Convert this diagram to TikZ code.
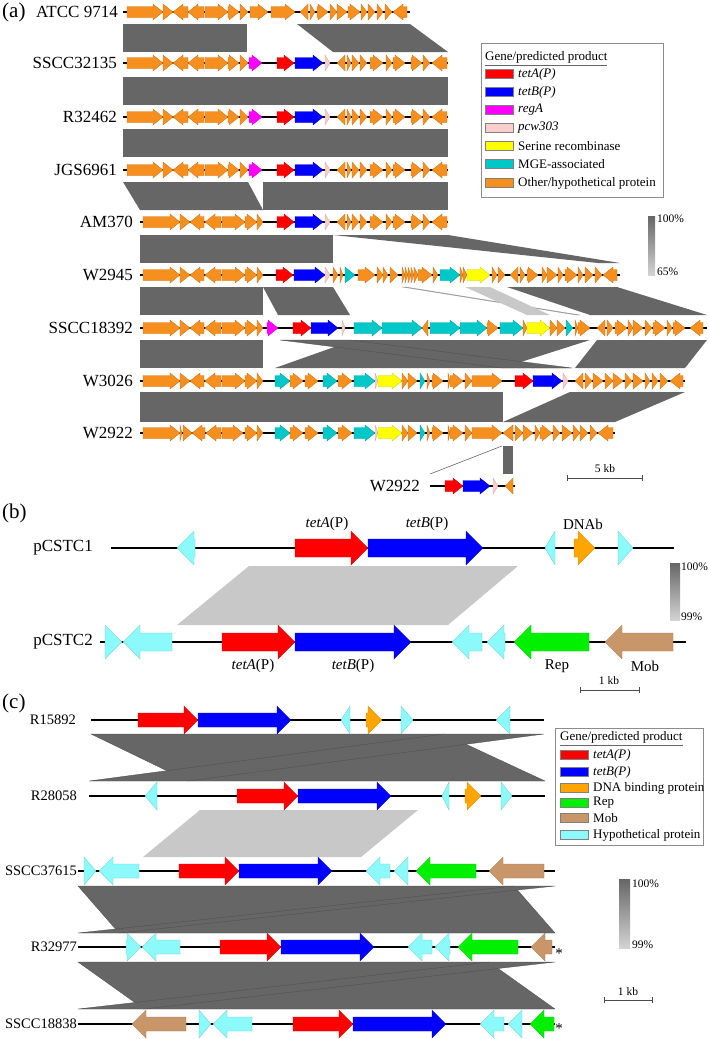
\documentclass[tikz,border=0pt]{standalone}
\usepackage{fontspec}
\setmainfont{Liberation Serif}
\usetikzlibrary{positioning}
\definecolor{orng}{RGB}{247,143,30}
\definecolor{tetared}{RGB}{255,0,0}
\definecolor{tetbblue}{RGB}{0,0,255}
\definecolor{regmag}{RGB}{255,0,255}
\definecolor{pcwpink}{RGB}{250,205,205}
\definecolor{seryel}{RGB}{255,255,0}
\definecolor{mgeteal}{RGB}{0,200,200}
\definecolor{hypcyan}{RGB}{140,250,250}
\definecolor{dnaorng}{RGB}{255,165,0}
\definecolor{repgreen}{RGB}{0,240,0}
\definecolor{mobbrown}{RGB}{200,150,105}
\definecolor{hitdark}{RGB}{102,102,102}
\definecolor{hitlight}{RGB}{200,200,200}
\tikzset{
    backbone/.style={line width=2pt},
    hit/.style={fill=hitdark},
    hitx/.style={fill=hitdark, draw=black!70, line width=0.3pt},
    hitpale/.style={fill=hitlight},
    rowlabel/.style={anchor=east, inner sep=0pt, font=\rowfont},
    panellabel/.style={anchor=west, inner sep=0pt, font=\fontsize{21}{24}\selectfont},
    genelabel/.style={inner sep=0pt, font=\fontsize{15}{17}\selectfont},
    legendbox/.style={draw=black!45, line width=0.8pt},
    swatch/.style={draw=black!50, line width=0.4pt},
    legtext/.style={anchor=west, inner sep=0pt, font=\fontsize{13}{15}\selectfont},
    scalebar/.style={draw=black!70, line width=0.8pt},
    pcttext/.style={anchor=west, inner sep=0pt, font=\fontsize{11.5}{13}\selectfont},
}
\newcommand{\rowfont}{\fontsize{17}{20}\selectfont}
\newcommand{\setgene}[3]{\def\gbh{#1}\def\ghh{#2}\def\ghl{#3}}
\newcommand{\gene}[4]{%
    \pgfmathsetmacro{\glen}{min(\ghl,#2-#1)}%
    \if#3r
        \filldraw[fill=#4, draw=#4!80!black, line width=0.3pt] (#1,\rowy-\gbh) -- (#2-\glen,\rowy-\gbh) -- (#2-\glen,\rowy-\ghh) -- (#2,\rowy) -- (#2-\glen,\rowy+\ghh) -- (#2-\glen,\rowy+\gbh) -- (#1,\rowy+\gbh) -- cycle;
    \else
        \filldraw[fill=#4, draw=#4!80!black, line width=0.3pt] (#2,\rowy-\gbh) -- (#1+\glen,\rowy-\gbh) -- (#1+\glen,\rowy-\ghh) -- (#1,\rowy) -- (#1+\glen,\rowy+\ghh) -- (#1+\glen,\rowy+\gbh) -- (#2,\rowy+\gbh) -- cycle;
    \fi
}
\newcommand{\genes}[1]{\edef\glist{#1}\foreach \s/\e/\d/\c in \glist {\gene{\s}{\e}{\d}{\c}}}
% name, label, label x, y, start, end
\newcommand{\genome}[6]{
    \def\rowy{#4}
    \coordinate (#1s) at (#5,#4);
    \coordinate (#1e) at (#6,#4);
    \draw[backbone] (#1s) -- (#1e);
    \node[rowlabel] (#1l) at (#3,#4) {#2};
}
\newcommand{\scalekb}[4]{% name, x1, x2, y ; label
    \coordinate (#1a) at (#2,#4);
    \coordinate (#1b) at (#3,#4);
    \draw[scalebar] (#1a) -- (#1b);
    \draw[scalebar] ([yshift=3pt]#1a) -- ([yshift=-3pt]#1a);
    \draw[scalebar] ([yshift=3pt]#1b) -- ([yshift=-3pt]#1b);
}
\newcommand{\legentry}[4]{% name, y, colour, text
    \filldraw[swatch, fill=#3] (\legx,#2-4.5) rectangle (\legx+28,#2+4.5);
    \node[legtext] (#1) at (\legx+33,#2) {#4};
}
% gene blocks shared by several rows of panel (a)
\newcommand{\leftA}{127/163/r/orng, 163/173/r/orng, 173/188/l/orng, 188/204/l/orng, 205/228/r/orng, 228/239/r/orng, 240/248/r/orng}
\newcommand{\leftB}{143/180/r/orng, 180/190/r/orng, 190/204/l/orng, 205/221/l/orng, 222/245/r/orng, 245/257/r/orng, 257/263/r/orng}
\newcommand{\tetmid}{277/294/r/tetared, 295/323/r/tetbblue, 325/330/r/pcwpink}
\newcommand{\tailA}{337/345/l/orng, 347/351/r/orng, 352/359/r/orng, 360/367/r/orng, 370/383/r/orng, 386/392/r/orng, 393/405/r/orng, 411/422/r/orng, 423/430/r/orng, 432/447/l/orng}
\newcommand{\mgeW}{275/290/r/mgeteal, 290/303/r/orng, 305/318/r/orng, 323/337/r/mgeteal, 338/352/r/orng, 354/375/r/mgeteal, 375/378/r/pcwpink, 378/402/r/seryel, 402/408/r/orng, 408/417/r/orng, 420/425/r/mgeteal, 427/430/r/orng, 432/443/r/orng, 448/450/r/orng, 450/463/r/orng, 465/472/r/orng, 472/502/r/orng}

\begin{document}
\begin{tikzpicture}[x=1pt, y=-1pt]
    \useasboundingbox (0,0) rectangle (709,1039);

    % ---------------- panel (a) ----------------
    \node[panellabel] (pa) at (2,12) {(a)};

    % blast hits
    \fill[hit] (123,24) -- (247,24) -- (247,52) -- (123,52) -- cycle;
    \fill[hit] (297,24) -- (410,24) -- (448,52) -- (333,52) -- cycle;
    \fill[hit] (123,77) -- (448,77) -- (448,105) -- (123,105) -- cycle;
    \fill[hit] (123,129) -- (448,129) -- (448,157) -- (123,157) -- cycle;
    \fill[hit] (123,182) -- (248,182) -- (263,210) -- (140,210) -- cycle;
    \fill[hit] (263,182) -- (448,182) -- (448,210) -- (263,210) -- cycle;
    \fill[hit] (140,235) -- (333,235) -- (333,263) -- (140,263) -- cycle;
    \fill[hit] (333,235) -- (448,235) -- (620,263) -- (598,263) -- cycle;
    \fill[hit] (140,287) -- (263,287) -- (263,315) -- (140,315) -- cycle;
    \fill[hit] (263,287) -- (333,287) -- (350,315) -- (278,315) -- cycle;
    \filldraw[hitpale, draw=black!40, line width=0.3pt] (402,287) -- (406,287) -- (580,315) -- (576,315) -- cycle;
    \fill[hitpale] (465,287) -- (490,287) -- (550,315) -- (527,315) -- cycle;
    \fill[hit] (507,287) -- (617,287) -- (707,315) -- (590,315) -- cycle;
    \fill[hit] (140,340) -- (263,340) -- (263,368) -- (140,368) -- cycle;
    \fill[hit] (354,340) -- (590,340) -- (502,368) -- (275,368) -- cycle;
    \filldraw[hitx] (280,340) -- (350,340) -- (572,368) -- (502,368) -- cycle;
    \fill[hit] (597,340) -- (707,340) -- (685,368) -- (575,368) -- cycle;
    \fill[hit] (140,392) -- (503,392) -- (503,422) -- (140,422) -- cycle;
    \fill[hit] (570,392) -- (685,392) -- (615,422) -- (503,422) -- cycle;
    \fill[hit] (503,446) rectangle (513,474);
    \draw[black!60, line width=0.6pt] (502,446) -- (430,474);

    \setgene{5.5}{8}{10}
    % ATCC 9714
    \genome{atcc}{ATCC 9714}{118}{12}{123}{410}
    \genes{\leftA, 250/268/r/orng, 271/295/r/orng, 300/308/l/orng, 310/315/r/orng, 317/328/r/orng, 330/337/r/orng, 337/347/r/orng, 348/360/r/orng, 361/367/r/orng, 368/375/r/orng, 377/383/r/orng, 385/392/r/orng, 393/407/l/orng}
    % SSCC32135
    \genome{s32135}{SSCC32135}{117}{63}{123}{448}
    \genes{\leftA, 249/262/r/regmag, \tetmid, \tailA}
    % R32462
    \genome{r32462}{R32462}{117}{117}{123}{448}
    \genes{\leftA, 249/262/r/regmag, \tetmid, \tailA}
    % JGS6961
    \genome{jgs6961}{JGS6961}{117}{170}{123}{448}
    \genes{\leftA, 249/262/r/regmag, \tetmid, \tailA}
    % AM370
    \genome{am370}{AM370}{133}{222}{140}{448}
    \genes{\leftB, \tetmid, \tailA}
    % W2945
    \genome{w2945}{W2945}{133}{275}{140}{620}
    \genes{\leftB, 276/293/r/tetared, 294/325/r/tetbblue, 325/330/r/pcwpink, 333/338/r/orng, 340/343/r/orng, 345/355/r/mgeteal, 358/375/r/orng, 377/383/r/orng, 383/388/r/orng, 390/398/r/orng, 402/405/r/orng, 405/408/r/orng, 408/411/r/orng, 411/414/r/orng, 414/418/r/orng, 418/432/r/orng, 433/438/r/orng, 440/460/r/mgeteal, 460/463/r/orng, 463/467/r/orng, 467/490/r/seryel, 492/497/r/orng, 498/505/r/orng, 510/518/l/orng, 520/525/r/orng, 527/538/r/orng, 542/547/r/orng, 547/557/r/orng, 558/563/r/orng, 565/577/r/orng, 578/583/r/orng, 585/593/r/orng, 595/602/r/orng, 603/617/l/orng}
    % SSCC18392
    \genome{s18392}{SSCC18392}{133}{328}{140}{707}
    \genes{\leftB, 267/278/r/regmag, 293/311/r/tetared, 311/338/r/tetbblue, 342/345/r/pcwpink, 354/382/r/mgeteal, 382/422/r/mgeteal, 422/428/l/orng, 430/460/r/mgeteal, 460/487/r/mgeteal, 487/498/r/orng, 500/523/r/mgeteal, 523/527/r/orng, 527/550/r/seryel, 550/557/r/orng, 557/565/r/orng, 566/573/r/mgeteal, 575/578/r/orng, 578/590/r/orng, 597/605/l/orng, 607/613/r/orng, 615/627/r/orng, 628/633/r/orng, 633/643/r/orng, 645/652/r/orng, 653/665/r/orng, 667/672/r/orng, 673/685/r/orng, 690/703/l/orng}
    % W3026
    \genome{w3026}{W3026}{133}{381}{140}{685}
    \genes{\leftB, \mgeW, 515/533/r/tetared, 533/562/r/tetbblue, 563/568/r/pcwpink, 575/583/l/orng, 585/592/r/orng, 593/603/r/orng, 605/613/r/orng, 613/623/r/orng, 625/632/r/orng, 633/643/r/orng, 645/650/r/orng, 652/658/r/orng, 660/668/r/orng, 670/683/l/orng}
    % W2922
    \genome{w2922}{W2922}{133}{433}{140}{615}
    \genes{143/180/r/orng, 180/182/r/orng, 183/192/r/orng, 192/205/l/orng, 206/221/l/orng, 222/243/r/orng, 245/257/r/orng, 257/263/r/orng, \mgeW, 503/513/l/orng, 515/523/r/orng, 523/533/r/orng, 535/540/r/orng, 540/552/r/orng, 553/560/r/orng, 562/572/r/orng, 573/580/r/orng, 580/588/r/orng, 590/597/r/orng, 598/613/l/orng}
    % W2922 (tet region)
    \genome{w2922b}{W2922}{420}{486}{430}{515}
    \genes{445/463/r/tetared, 463/490/r/tetbblue, 493/498/r/pcwpink, 505/513/l/orng}

    % legend (a)
    \draw[legendbox] (481,43) rectangle (663,197);
    \node[legtext] (lga) at (485,57) {Gene/predicted product};
    \draw[black!60, line width=0.6pt] (485,65) -- (607,65);
    \def\legx{485}
    \legentry{la1}{74}{tetared}{\textit{tetA(P)}}
    \legentry{la2}{92}{tetbblue}{\textit{tetB(P)}}
    \legentry{la3}{110}{regmag}{\textit{regA}}
    \legentry{la4}{128}{pcwpink}{\textit{pcw303}}
    \legentry{la5}{146}{seryel}{Serine recombinase}
    \legentry{la6}{164}{mgeteal}{MGE-associated}
    \legentry{la7}{183}{orng}{Other/hypothetical protein}

    % identity scale and size bar (a)
    \shade[top color=hitdark, bottom color=hitlight!80!white] (648,216) rectangle (655,275);
    \node[pcttext] (pa100) at (657,219) {100\%};
    \node[pcttext] (pa65) at (657,272) {65\%};
    \scalekb{kba}{567}{642}{478}
    \node[pcttext, anchor=center] (kbal) at (605,469) {5 kb};

    % ---------------- panel (b) ----------------
    \node[panellabel] (pb) at (2,513) {(b)};
    \fill[hitpale] (249,566) -- (518,566) -- (448,625) -- (177,625) -- cycle;
    \begin{scope}[backbone/.style={line width=2.4pt}]
    \setgene{9}{17}{17}
    % pCSTC1
    \genome{pcstc1}{pCSTC1}{93}{548}{111}{674}
    \genes{177/195/l/hypcyan, 295/368/r/tetared, 368/483/r/tetbblue, 545/555/l/hypcyan, 574/595/r/dnaorng, 618/633/r/hypcyan}
    % pCSTC2
    \genome{pcstc2}{pCSTC2}{93}{642}{100}{686}
    \genes{105/122/r/hypcyan, 123/172/l/hypcyan, 222/295/r/tetared, 295/411/r/tetbblue, 452/482/l/hypcyan, 487/505/l/hypcyan, 514/589/l/repgreen, 605/673/l/mobbrown}
    \end{scope}
    \node[genelabel] (tA1) at (327,524) {\textit{tetA}(P)};
    \node[genelabel] (tB1) at (427,524) {\textit{tetB}(P)};
    \node[genelabel] (dnab) at (583,524) {DNAb};
    \node[genelabel] (tA2) at (253,666) {\textit{tetA}(P)};
    \node[genelabel] (tB2) at (353,666) {\textit{tetB}(P)};
    \node[genelabel] (rep) at (557,666) {Rep};
    \node[genelabel] (mob) at (645,666) {Mob};
    \shade[top color=hitdark, bottom color=hitlight!80!white] (670,563) rectangle (680,620);
    \node[pcttext] (pb100) at (681,567) {100\%};
    \node[pcttext] (pb99) at (681,617) {99\%};
    \scalekb{kbb}{580}{639}{690}
    \node[pcttext, anchor=center] (kbbl) at (609,681) {1 kb};

    % ---------------- panel (c) ----------------
    \node[panellabel] (pc) at (2,703) {(c)};
    \filldraw[hitx] (91,734) -- (444,734) -- (545,781) -- (188,781) -- cycle;
    \filldraw[hitx] (444,734) -- (544,734) -- (188,781) -- (89,781) -- cycle;
    \fill[hitpale] (200,810) -- (418,810) -- (361,857) -- (143,857) -- cycle;
    \filldraw[hitx] (78,886) -- (514,886) -- (555,933) -- (119,933) -- cycle;
    \filldraw[hitx] (514,886) -- (555,886) -- (119,933) -- (78,933) -- cycle;
    \filldraw[hitx] (78,962) -- (489,962) -- (555,1009) -- (144,1009) -- cycle;
    \filldraw[hitx] (489,962) -- (555,962) -- (144,1009) -- (78,1009) -- cycle;
    \begin{scope}[backbone/.style={line width=2.4pt}]
    \renewcommand{\rowfont}{\fontsize{14.5}{17}\selectfont}
    \setgene{7}{14}{14}
    % R15892
    \genome{r15892}{R15892}{76}{720}{91}{544}
    \genes{138/198/r/tetared, 198/291/r/tetbblue, 341/350/l/hypcyan, 366/382/r/dnaorng, 401/413/r/hypcyan, 496/510/l/hypcyan}
    % R28058
    \genome{r28058}{R28058}{77}{796}{89}{545}
    \genes{145/157/l/hypcyan, 237/298/r/tetared, 298/391/r/tetbblue, 442/449/l/hypcyan, 465/481/r/dnaorng, 501/512/r/hypcyan}
    % SSCC37615
    \genome{s37615}{SSCC37615}{77}{871}{78}{555}
    \genes{84/96/r/hypcyan, 99/139/l/hypcyan, 179/239/r/tetared, 239/332/r/tetbblue, 366/390/l/hypcyan, 394/408/l/hypcyan, 416/476/l/repgreen, 489/544/l/mobbrown}
    % R32977
    \genome{r32977}{R32977}{77}{947}{78}{555}
    \genes{126/141/r/hypcyan, 142/180/l/hypcyan, 220/281/r/tetared, 281/374/r/tetbblue, 408/432/l/hypcyan, 435/450/l/hypcyan, 458/518/l/repgreen, 531/552/l/mobbrown}
    % SSCC18838
    \genome{s18838}{SSCC18838}{77}{1024}{78}{555}
    \genes{132/186/l/mobbrown, 199/211/r/hypcyan, 213/252/l/hypcyan, 293/353/r/tetared, 353/446/r/tetbblue, 480/504/l/hypcyan, 508/522/l/hypcyan, 530/554/l/repgreen}
    \end{scope}
    \node[inner sep=0pt, font=\fontsize{15}{17}\selectfont] (ast1) at (559,954) {*};
    \node[inner sep=0pt, font=\fontsize{15}{17}\selectfont] (ast2) at (559,1029) {*};

    % legend (c)
    \draw[legendbox] (555,728) rectangle (703,845);
    \node[legtext] (lgc) at (560,737) {Gene/predicted product};
    \draw[black!60, line width=0.6pt] (560,745) -- (683,745);
    \def\legx{560}
    \legentry{lc1}{755}{tetared}{\textit{tetA(P)}}
    \legentry{lc2}{772}{tetbblue}{\textit{tetB(P)}}
    \legentry{lc3}{788}{dnaorng}{DNA binding protein}
    \legentry{lc4}{803}{repgreen}{Rep}
    \legentry{lc5}{818}{mobbrown}{Mob}
    \legentry{lc6}{835}{hypcyan}{Hypothetical protein}

    % identity scale and size bar (c)
    \shade[top color=hitdark, bottom color=hitlight!80!white] (619,879) rectangle (630,948);
    \node[pcttext] (pc100) at (632,884) {100\%};
    \node[pcttext] (pc99) at (632,945) {99\%};
    \scalekb{kbc}{604}{652}{1000}
    \node[pcttext, anchor=center] (kbcl) at (628,992) {1 kb};

\end{tikzpicture}
\end{document}
